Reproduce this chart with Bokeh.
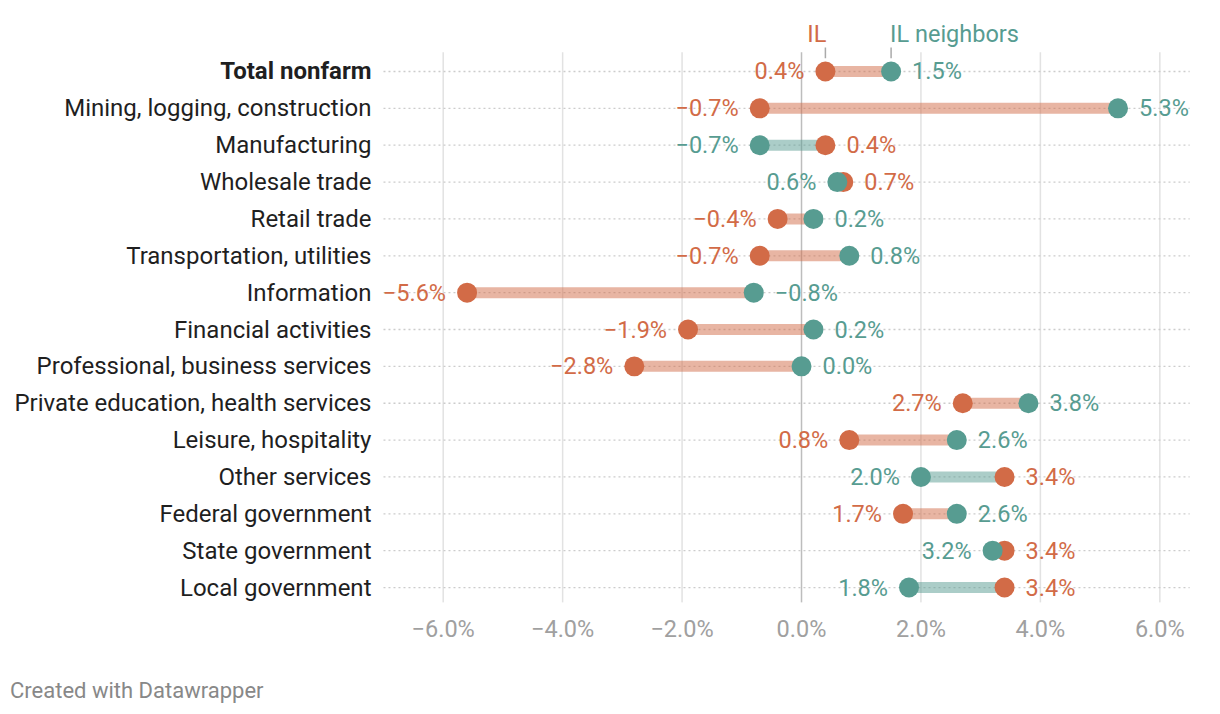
from bokeh.plotting import figure
from bokeh.models import Range1d, FixedTicker, ColumnDataSource, Div
from bokeh.layouts import column
from bokeh.core.properties import value
from bokeh.embed import file_html
from bokeh.resources import INLINE

categories = ["Total nonfarm", "Mining, logging, construction", "Manufacturing",
              "Wholesale trade", "Retail trade", "Transportation, utilities",
              "Information", "Financial activities", "Professional, business services",
              "Private education, health services", "Leisure, hospitality",
              "Other services", "Federal government", "State government",
              "Local government"]
il = [0.4, -0.7, 0.4, 0.7, -0.4, -0.7, -5.6, -1.9, -2.8, 2.7, 0.8, 3.4, 1.7, 3.4, 3.4]
neighbors = [1.5, 5.3, -0.7, 0.6, 0.2, 0.8, -0.8, 0.2, 0.0, 3.8, 2.6, 2.0, 2.6, 3.2, 1.8]
ticks = [-6, -4, -2, 0, 2, 4, 6]
tick_labels = ["−6.0%", "−4.0%", "−2.0%", "0.0%", "2.0%", "4.0%", "6.0%"]
series_names = ["IL", "IL neighbors"]

ORANGE = "#d26b47"
TEAL = "#579c91"
FONT = "Roboto"
FS = "23.5px"

def fmt(v):
    s = f"{abs(v):.1f}%"
    return ("−" + s) if v < 0 else s

n = len(categories)
rows = list(range(n))

p = figure(width=1212, height=650, output_backend="svg", toolbar_location=None,
           x_range=Range1d(-13.413, 6.882), y_range=Range1d(14.406, -1.926),
           min_border_left=0, min_border_right=0, min_border_top=0, min_border_bottom=48)
p.outline_line_color = None
p.xgrid.visible = False
p.ygrid.visible = False
p.yaxis.visible = False

ax = p.xaxis[0]
ax.ticker = FixedTicker(ticks=ticks)
ax.major_label_overrides = {t: l for t, l in zip(ticks, tick_labels)}
ax.axis_line_color = None
ax.major_tick_line_color = None
ax.minor_tick_line_color = None
ax.major_label_text_font = FONT
ax.major_label_text_font_size = "23.5px"
ax.major_label_text_color = "#a0a0a0"
ax.major_label_standoff = 6

# vertical grid lines
p.segment(x0=ticks, x1=ticks, y0=[-0.52] * len(ticks), y1=[14.41] * len(ticks),
          line_color=["#bdbdbd" if t == 0 else "#e2e2e2" for t in ticks], line_width=1.5)

# dotted row lines
p.segment(x0=[-7.0] * n, x1=[6.5] * n, y0=rows, y1=rows,
          line_color="#cccccc", line_width=1.3, line_dash="2 3")

# bars colored by lower series
bar_colors = [ORANGE if a < b else TEAL for a, b in zip(il, neighbors)]
p.segment(x0=il, x1=neighbors, y0=rows, y1=rows, line_color=bar_colors,
          line_alpha=0.5, line_width=11, line_cap="butt")

# dots
p.scatter(x=il, y=rows, size=20, fill_color=ORANGE, line_color=None)
p.scatter(x=neighbors, y=rows, size=20, fill_color=TEAL, line_color=None)

# value labels
il_left = [a < b for a, b in zip(il, neighbors)]
src_il = ColumnDataSource(dict(
    x=il, y=rows, t=[fmt(v) for v in il],
    align=["right" if l else "left" for l in il_left],
    off=[-21 if l else 21 for l in il_left]))
src_nb = ColumnDataSource(dict(
    x=neighbors, y=rows, t=[fmt(v) for v in neighbors],
    align=["left" if l else "right" for l in il_left],
    off=[21 if l else -21 for l in il_left]))
for src, col in ((src_il, ORANGE), (src_nb, TEAL)):
    p.text(x="x", y="y", text="t", source=src, text_align="align", x_offset="off",
           text_baseline="middle", text_font=value(FONT), text_font_size=FS,
           text_color=col)

# row labels
p.text(x=[-7.0] * n, y=rows, text=categories, x_offset=-12, text_align="right",
       text_baseline="middle", text_font=value(FONT), text_font_size="24px",
       text_color="#1f1f1f",
       text_font_style=["bold" if i == 0 else "normal" for i in rows])

# header legend labels
p.segment(x0=[il[0], neighbors[0]], x1=[il[0], neighbors[0]], y0=[-0.65, -0.65],
          y1=[-0.36, -0.36], line_color="#aaaaaa", line_width=1.5)
p.text(x=[il[0]], y=[-1.03], text=[series_names[0]], text_align="right", x_offset=1,
       text_baseline="middle", text_font=value(FONT), text_font_size=FS,
       text_color=ORANGE)
p.text(x=[neighbors[0]], y=[-1.03], text=[series_names[1]], text_align="left", x_offset=-1,
       text_baseline="middle", text_font=value(FONT), text_font_size=FS,
       text_color=TEAL)

footer = Div(text="Created with Datawrapper", width=400, height=54, margin=(0, 0, 0, 0),
             styles={"font-family": "Roboto", "font-size": "22px", "color": "#888888",
                     "line-height": "26px", "padding-top": "28px", "padding-left": "10px"})

layout = column(p, footer, spacing=0)
open("out.html", "w").write(file_html(layout, INLINE))
